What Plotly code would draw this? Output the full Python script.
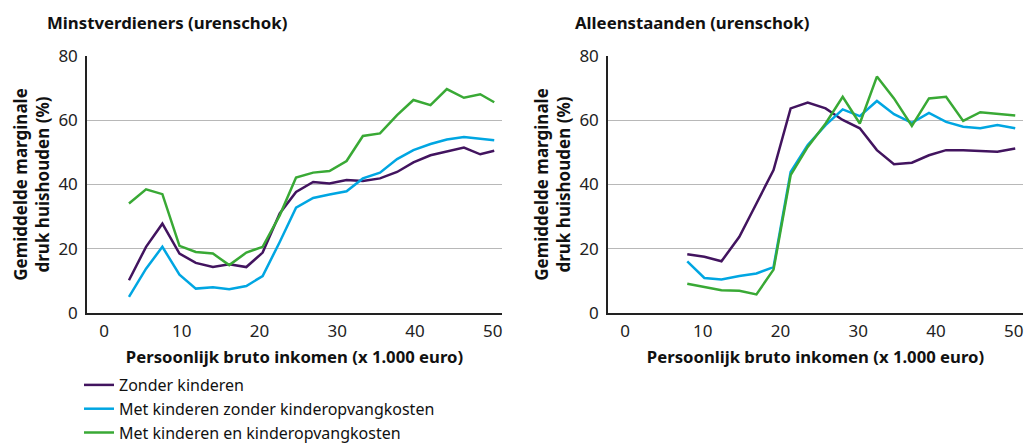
"""Gemiddelde marginale druk per huishoudtype (urenschok), twee panelen."""

import plotly.graph_objects as go
from plotly.subplots import make_subplots

# Minstverdieners (linker paneel)
x_min = [3.2, 5.4, 7.5, 9.7, 11.8, 14.0, 16.1, 18.3, 20.4, 22.6, 24.7, 26.9,
         29.0, 31.2, 33.3, 35.5, 37.7, 39.8, 42.0, 44.1, 46.3, 48.4, 50.2]
min_zonder = [10.2, 20.6, 27.8, 18.5, 15.6, 14.3, 15.2, 14.3, 18.8, 31.0, 37.7, 40.8,
              40.3, 41.4, 41.1, 41.9, 43.9, 46.9, 49.1, 50.2, 51.5, 49.4, 50.5]
min_met_zonder_ko = [5.0, 13.8, 20.6, 11.9, 7.6, 8.0, 7.4, 8.4, 11.5, 22.1, 32.8, 35.8,
                     36.9, 37.9, 41.9, 43.7, 47.9, 50.7, 52.6, 54.0, 54.8, 54.3, 53.8]
min_met_ko = [34.1, 38.5, 37.0, 20.9, 19.0, 18.5, 14.9, 18.8, 20.6, 30.4, 42.2, 43.7,
              44.2, 47.3, 55.1, 55.9, 61.6, 66.3, 64.7, 69.7, 67.0, 68.1, 65.6]

# Alleenstaanden (rechter paneel)
x_all = [8.0, 10.2, 12.4, 14.7, 16.9, 19.1, 21.3, 23.5, 25.8, 28.0, 30.2, 32.4,
         34.6, 36.9, 39.1, 41.3, 43.5, 45.7, 47.9, 50.2]
all_zonder = [18.3, 17.5, 16.1, 23.7, 34.1, 44.5, 63.7, 65.5, 63.7, 60.1, 57.5, 50.7,
              46.3, 46.8, 49.1, 50.7, 50.7, 50.5, 50.2, 51.2]
all_met_zonder_ko = [16.1, 10.9, 10.4, 11.5, 12.3, 14.3, 43.9, 52.3, 58.5, 63.4, 61.3, 66.0,
                     61.9, 59.2, 62.3, 59.5, 58.0, 57.5, 58.5, 57.5]
all_met_ko = [9.1, 8.1, 7.1, 6.9, 5.8, 13.5, 42.9, 51.7, 59.0, 67.3, 59.0, 73.6,
              66.8, 58.2, 66.8, 67.3, 59.8, 62.5, 62.1, 61.5]

series_names = ["Zonder kinderen", "Met kinderen zonder kinderopvangkosten",
                "Met kinderen en kinderopvangkosten"]
panel_titles = ["Minstverdieners (urenschok)", "Alleenstaanden (urenschok)"]
x_ticks = [0, 10, 20, 30, 40, 50]
y_ticks = [0, 20, 40, 60, 80]

COLORS = ["#42145f", "#00a6e2", "#39a935"]
FONT = "Noto Sans"
W, H = 1031, 445

fig = make_subplots(rows=1, cols=2)
panels = [
    (x_min, [min_zonder, min_met_zonder_ko, min_met_ko]),
    (x_all, [all_zonder, all_met_zonder_ko, all_met_ko]),
]
for col, (xs, ys) in enumerate(panels, start=1):
    for name, y, color in zip(series_names, ys, COLORS):
        fig.add_trace(go.Scatter(x=xs, y=y, mode="lines", name=name,
                                 line=dict(color=color, width=2.5),
                                 showlegend=(col == 1)), row=1, col=col)

axis_common = dict(showline=True, linecolor="#222", linewidth=1.5, ticks="",
                   tickfont=dict(size=17, color="#222"), automargin=False)
for col, dom in enumerate([(87, 502), (608, 1023)], start=1):
    fig.update_xaxes(axis_common, domain=[dom[0] / W, dom[1] / W], range=[-2.2, 51.2],
                     tickvals=x_ticks, showgrid=False, zeroline=False, ticklabelstandoff=2,
                     title=dict(text="<b>Persoonlijk bruto inkomen (x 1.000 euro)</b>",
                                font=dict(size=16.7, color="#111"), standoff=10),
                     row=1, col=col)
    fig.update_yaxes(axis_common, domain=[1 - 313 / H, 1 - 56 / H], range=[0, 80],
                     tickvals=y_ticks, showgrid=True, gridcolor="#b8b8b8", gridwidth=1,
                     zeroline=False, ticklabelstandoff=4,
                     title=dict(text="<b>Gemiddelde marginale<br>druk huishouden (%)</b>",
                                font=dict(size=17, color="#111"), standoff=4),
                     row=1, col=col)

for title, xpos in zip(panel_titles, [45, 573]):
    fig.add_annotation(text=f"<b>{title}</b>", xref="paper", yref="paper",
                       x=xpos / W, y=1 - 23 / H, xanchor="left", yanchor="middle",
                       showarrow=False, font=dict(size=16.8, color="#111"))

fig.update_layout(
    width=W, height=H,
    margin=dict(l=0, r=0, t=0, b=0, autoexpand=False),
    paper_bgcolor="white", plot_bgcolor="white",
    font=dict(family=FONT, color="#111"),
    legend=dict(x=79 / W, y=1 - 368 / H, xanchor="left", yanchor="top",
                font=dict(size=16, color="#111"), tracegroupgap=0,
                itemwidth=30, bgcolor="rgba(0,0,0,0)"),
)

fig.write_html("out.html", config={"displayModeBar": False},
               post_script="document.body.style.margin = '0';")
